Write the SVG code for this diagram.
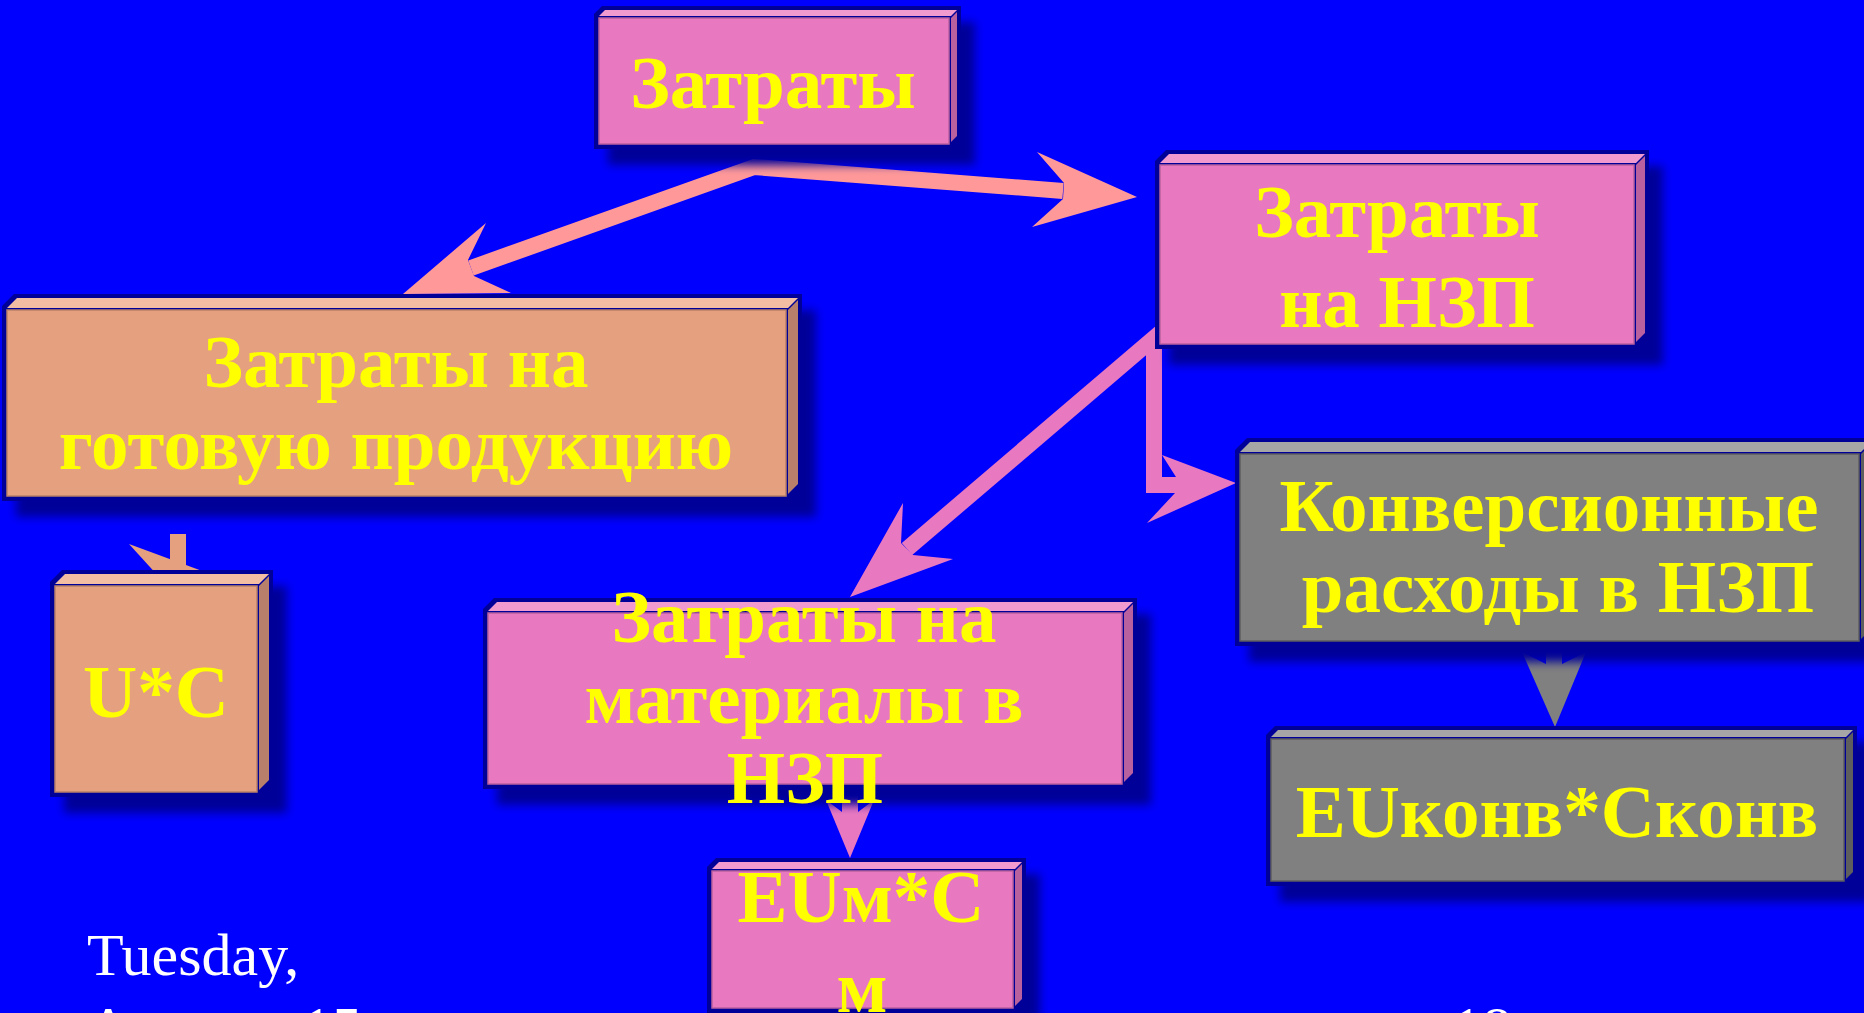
<svg xmlns="http://www.w3.org/2000/svg" width="1864" height="1013" viewBox="0 0 1864 1013">
<defs>
<filter id="blur" x="-20%" y="-20%" width="140%" height="140%"><feGaussianBlur stdDeviation="5"/></filter>
<style>
.nv{fill:#000099}
.sh{fill:#000099;filter:url(#blur)}
.pk{fill:#E879C1;stroke:#B9609E;stroke-width:1.5}
.pkT{fill:#F09ACF}
.pkS{fill:#B9609E}
.or{fill:#E5A17F;stroke:#B8806A;stroke-width:1.5}
.orT{fill:#F2BDA2}
.orS{fill:#B8806A}
.gy{fill:#808080;stroke:#5E5E5E;stroke-width:1.5}
.gyT{fill:#A6A6A6}
.gyS{fill:#5E5E5E}
.t{font-family:"Liberation Serif","Times New Roman",serif;font-weight:bold;font-size:75px;fill:#FFFF00;text-anchor:middle}
.d{font-family:"Liberation Serif","Times New Roman",serif;font-size:60px;fill:#FFFFFF}
</style>
</defs>
<rect width="1864" height="1013" fill="#0000FF"/>

<g id="connectors">
  <path d="M471,268 L754,167 L1063,191" fill="none" stroke="#FF9999" stroke-width="16" stroke-linejoin="miter"/>
  <polygon points="468,260 486,223 403,294 511,293 474,276" fill="#FF9999"/>
  <polygon points="1064,183 1037,152 1137,197 1032,227 1063,199" fill="#FF9999"/>
  <path d="M907,549 L1154,338 L1154,485 L1176,485" fill="none" stroke="#E879C1" stroke-width="16" stroke-linejoin="miter"/>
  <polygon points="901,543 903,503 850,597 953,559 913,555" fill="#E879C1"/>
  <polygon points="1176,477 1162,455 1236,483 1147,523 1175,493" fill="#E879C1"/>
  <rect x="170" y="534" width="16" height="40" fill="#E5A17F"/>
  <polygon points="129,544 232,582 180,600" fill="#E5A17F"/>
  <polygon points="842,780 858,780 858,812 874,800 850,858 826,800 842,812" fill="#E879C1"/>
  <polygon points="1546,640 1562,640 1562,664 1586,652 1555,727 1522,652 1546,664" fill="#808080"/>
</g>

<g id="node-zatraty">
  <rect class="sh" x="608" y="22" width="367" height="143"/>
  <polygon class="nv" points="594,14 602,6 961,6 961,136 953,149 594,149"/>
  <polygon class="pkT" points="599,16 605,10 957,10 951,16"/>
  <polygon class="pkS" points="951,18 957,12 957,136 951,142"/>
  <rect class="pk" x="599" y="18" width="350" height="126"/>
  <text class="t" x="773" y="108">Затраты</text>
</g>

<g id="node-nzp">
  <rect class="sh" x="1169" y="166" width="494" height="199"/>
  <polygon class="nv" points="1155,161 1166,150 1649,150 1649,333 1638,349 1155,349"/>
  <polygon class="pkT" points="1160,163 1169,154 1645,154 1636,163"/>
  <polygon class="pkS" points="1636,165 1645,156 1645,333 1636,342"/>
  <rect class="pk" x="1160" y="165" width="474" height="179"/>
  <text class="t" x="1397" y="237">Затраты</text>
  <text class="t" x="1407" y="327">на НЗП</text>
</g>

<g id="node-gotovaya">
  <rect class="sh" x="16" y="310" width="800" height="207"/>
  <polygon class="nv" points="2,306 14,294 802,294 802,484 790,501 2,501"/>
  <polygon class="orT" points="7,308 17,298 798,298 788,308"/>
  <polygon class="orS" points="788,310 798,300 798,484 788,494"/>
  <rect class="or" x="7" y="310" width="779" height="186"/>
  <text class="t" x="396" y="387">Затраты на</text>
  <text class="t" x="396" y="469">готовую продукцию</text>
</g>

<g id="node-uc">
  <rect class="sh" x="64" y="586" width="223" height="227"/>
  <polygon class="nv" points="50,582 62,570 273,570 273,780 261,797 50,797"/>
  <polygon class="orT" points="55,584 65,574 269,574 259,584"/>
  <polygon class="orS" points="259,586 269,576 269,780 259,790"/>
  <rect class="or" x="55" y="586" width="202" height="206"/>
  <text class="t" x="156" y="717">U*C</text>
</g>

<g id="node-materialy">
  <rect class="sh" x="497" y="614" width="654" height="191"/>
  <polygon class="nv" points="483,609 494,598 1137,598 1137,773 1126,789 483,789"/>
  <polygon class="pkT" points="488,611 497,602 1133,602 1124,611"/>
  <polygon class="pkS" points="1124,613 1133,604 1133,773 1124,782"/>
  <rect class="pk" x="488" y="613" width="634" height="171"/>
  <text class="t" x="804" y="642">Затраты на</text>
  <text class="t" x="804" y="723">материалы в</text>
  <text class="t" x="805" y="803">НЗП</text>
</g>

<g id="node-eum">
  <rect class="sh" x="721" y="874" width="319" height="155"/>
  <polygon class="nv" points="707,867 716,858 1026,858 1026,999 1017,1013 707,1013"/>
  <polygon class="pkT" points="712,869 719,862 1022,862 1015,869"/>
  <polygon class="pkS" points="1015,871 1022,864 1022,999 1015,1006"/>
  <rect class="pk" x="712" y="871" width="301" height="137"/>
  <text class="t" x="861" y="922">EUм*C</text>
  <text class="t" x="862" y="1012">м</text>
</g>

<g id="node-konv">
  <rect class="sh" x="1249" y="454" width="640" height="208"/>
  <polygon class="nv" points="1235,450 1247,438 1875,438 1875,629 1863,646 1235,646"/>
  <polygon class="gyT" points="1240,452 1250,442 1871,442 1861,452"/>
  <polygon class="gyS" points="1861,454 1871,444 1871,629 1861,639"/>
  <rect class="gy" x="1240" y="454" width="619" height="187"/>
  <text class="t" x="1549" y="531">Конверсионные</text>
  <text class="t" x="1558" y="612">расходы в НЗП</text>
</g>

<g id="node-eukonv">
  <rect class="sh" x="1280" y="742" width="591" height="160"/>
  <polygon class="nv" points="1266,735 1275,726 1857,726 1857,872 1848,886 1266,886"/>
  <polygon class="gyT" points="1271,737 1278,730 1853,730 1846,737"/>
  <polygon class="gyS" points="1846,739 1853,732 1853,872 1846,879"/>
  <rect class="gy" x="1271" y="739" width="573" height="142"/>
  <text class="t" x="1557" y="837">EUконв*Сконв</text>
</g>

<g id="footer">
  <text class="d" x="87" y="975">Tuesday,</text>
  <text class="d" x="87" y="1048">August <tspan x="302">15,</tspan></text>
  <text class="d" x="1452" y="1048">18</text>
</g>
</svg>
